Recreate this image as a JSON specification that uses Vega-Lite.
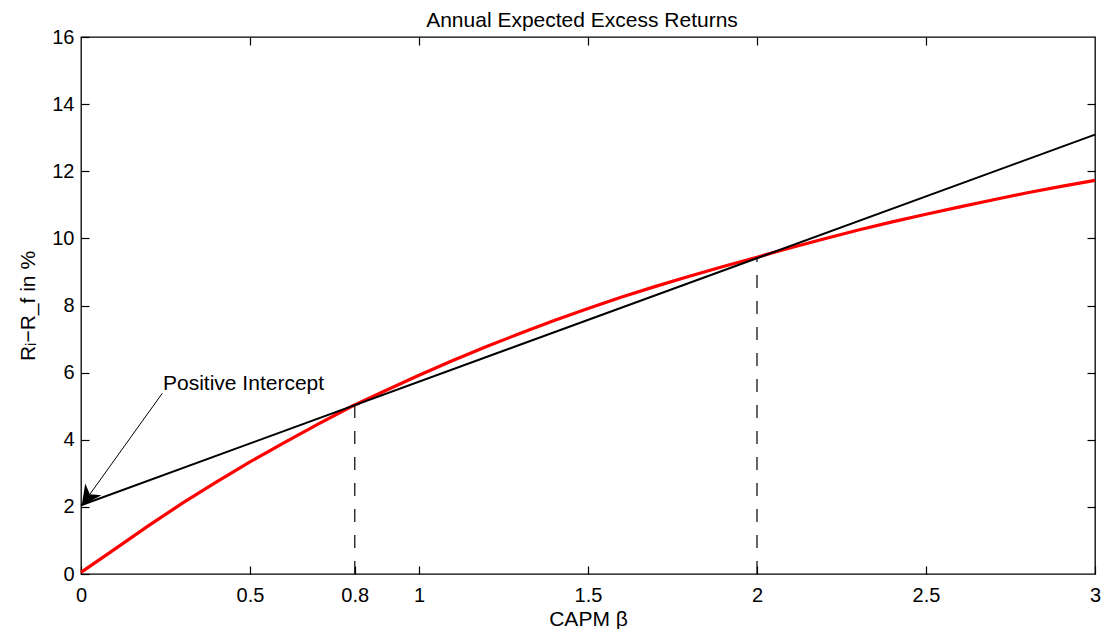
{
  "$schema": "https://vega.github.io/schema/vega-lite/v6.json",
  "width": 1014,
  "height": 537,
  "autosize": {"type": "none"},
  "padding": {"left": 81, "top": 37, "right": 9, "bottom": 55},
  "background": "white",
  "title": {
    "text": "Annual Expected Excess Returns",
    "font": "Liberation Sans",
    "fontSize": 21,
    "fontWeight": "normal",
    "color": "black",
    "frame": "group",
    "anchor": "middle",
    "baseline": "alphabetic",
    "offset": -21,
    "dx": -6
  },
  "config": {
    "font": "Liberation Sans",
    "view": {"stroke": "black", "strokeWidth": 1.3},
    "axis": {
      "grid": false,
      "domain": false,
      "tickColor": "black",
      "tickWidth": 1.2,
      "tickSize": -8,
      "labelColor": "black",
      "labelFont": "Liberation Sans",
      "labelFontSize": 20,
      "labelFlush": false,
      "labelOverlap": false,
      "titleColor": "black",
      "titleFont": "Liberation Sans",
      "titleFontSize": 21,
      "titleFontWeight": "normal"
    }
  },
  "datasets": {
    "red": [
      {"beta": 0.0, "ret": 0.05},
      {"beta": 0.1, "ret": 0.74},
      {"beta": 0.2, "ret": 1.44},
      {"beta": 0.3, "ret": 2.11},
      {"beta": 0.4, "ret": 2.74},
      {"beta": 0.5, "ret": 3.34},
      {"beta": 0.6, "ret": 3.91},
      {"beta": 0.7, "ret": 4.46},
      {"beta": 0.8, "ret": 4.99},
      {"beta": 0.9, "ret": 5.46},
      {"beta": 1.0, "ret": 5.92},
      {"beta": 1.1, "ret": 6.36},
      {"beta": 1.2, "ret": 6.78},
      {"beta": 1.3, "ret": 7.17},
      {"beta": 1.4, "ret": 7.55},
      {"beta": 1.5, "ret": 7.91},
      {"beta": 1.6, "ret": 8.25},
      {"beta": 1.7, "ret": 8.57},
      {"beta": 1.8, "ret": 8.87},
      {"beta": 1.9, "ret": 9.16},
      {"beta": 2.0, "ret": 9.44},
      {"beta": 2.1, "ret": 9.72},
      {"beta": 2.2, "ret": 9.99},
      {"beta": 2.3, "ret": 10.25},
      {"beta": 2.4, "ret": 10.49},
      {"beta": 2.5, "ret": 10.72},
      {"beta": 2.6, "ret": 10.94},
      {"beta": 2.7, "ret": 11.15},
      {"beta": 2.8, "ret": 11.36},
      {"beta": 2.9, "ret": 11.55},
      {"beta": 3.0, "ret": 11.73}
    ],
    "black": [
      {"beta": 0, "ret": 2.05},
      {"beta": 3, "ret": 13.09}
    ],
    "dashed": [
      {"beta": 0.81, "lo": 0, "hi": 5.03},
      {"beta": 2.0, "lo": 0, "hi": 9.43}
    ],
    "note": [
      {"bx": 0.2405, "by": 5.385, "tx": 0.002, "ty": 2.035, "lx": 0.2426, "ly": 5.48, "label": "Positive Intercept"}
    ]
  },
  "layer": [
    {
      "data": {"name": "red"},
      "mark": {"type": "line", "color": "#ff0000", "strokeWidth": 3.2},
      "encoding": {
        "x": {
          "field": "beta",
          "type": "quantitative",
          "scale": {"domain": [0, 3], "nice": false, "zero": false},
          "axis": {
            "orient": "bottom",
            "values": [0, 0.5, 0.81, 1, 1.5, 2, 2.5, 3],
            "labelExpr": "datum.value == 0.81 ? '0.8' : format(datum.value, '~g')",
            "labelPadding": 19,
            "title": "CAPM β",
            "titlePadding": 3
          }
        },
        "y": {
          "field": "ret",
          "type": "quantitative",
          "scale": {"domain": [0, 16], "nice": false, "zero": false},
          "axis": {
            "orient": "left",
            "values": [0, 2, 4, 6, 8, 10, 12, 14, 16],
            "labelPadding": 15,
            "title": "Rᵢ−R_f in %",
            "titlePadding": 13
          }
        }
      }
    },
    {
      "data": {"name": "black"},
      "mark": {"type": "line", "color": "black", "strokeWidth": 2},
      "encoding": {
        "x": {
          "field": "beta",
          "type": "quantitative",
          "axis": {"orient": "top", "values": [0.5, 1, 1.5, 2, 2.5], "labels": false, "title": null}
        },
        "y": {
          "field": "ret",
          "type": "quantitative",
          "axis": {"orient": "right", "values": [2, 4, 6, 8, 10, 12, 14], "labels": false, "title": null}
        }
      }
    },
    {
      "data": {"name": "dashed"},
      "mark": {"type": "rule", "color": "black", "strokeWidth": 1.2, "strokeDash": [13, 13]},
      "encoding": {
        "x": {"field": "beta", "type": "quantitative", "axis": null},
        "y": {"field": "lo", "type": "quantitative", "axis": null},
        "y2": {"field": "hi"}
      }
    },
    {
      "data": {"name": "note"},
      "mark": {"type": "rule", "color": "black", "strokeWidth": 1},
      "encoding": {
        "x": {"field": "bx", "type": "quantitative", "axis": null},
        "y": {"field": "by", "type": "quantitative", "axis": null},
        "x2": {"field": "tx"},
        "y2": {"field": "ty"}
      }
    },
    {
      "data": {"name": "note"},
      "mark": {
        "type": "point",
        "shape": "M0,0L0.5,1L0,0.7L-0.5,1Z",
        "size": 1600,
        "angle": 215.7,
        "filled": true,
        "color": "black",
        "opacity": 1
      },
      "encoding": {
        "x": {"field": "tx", "type": "quantitative", "axis": null},
        "y": {"field": "ty", "type": "quantitative", "axis": null}
      }
    },
    {
      "data": {"name": "note"},
      "mark": {
        "type": "text",
        "align": "left",
        "baseline": "alphabetic",
        "font": "Liberation Sans",
        "fontSize": 21,
        "color": "black"
      },
      "encoding": {
        "x": {"field": "lx", "type": "quantitative", "axis": null},
        "y": {"field": "ly", "type": "quantitative", "axis": null},
        "text": {"field": "label"}
      }
    }
  ]
}
